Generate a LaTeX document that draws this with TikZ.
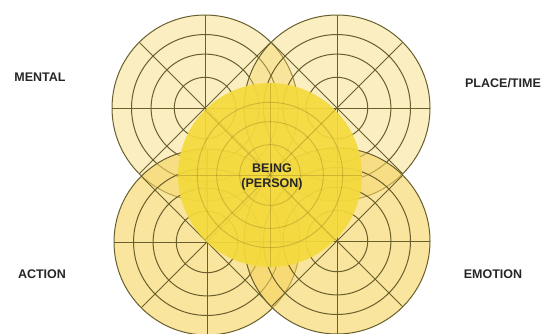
\documentclass[tikz,border=0pt]{standalone}
\usepackage{fontspec}
\setmainfont{Liberation Sans}
\begin{document}
\begin{tikzpicture}[x=1pt,y=-1pt,
  gridline/.style={draw={rgb,255:red,105;green,95;blue,45}, line width=1pt},
  softline/.style={draw={rgb,255:red,150;green,130;blue,30}, line width=0.9pt, draw opacity=0.4},
  lbl/.style={font=\bfseries\fontsize{12.5}{14}\selectfont, text=black!85, inner sep=0pt},
  toplobe/.style={fill={rgb,255:red,245;green,213;blue,100}, fill opacity=0.4},
  botlobe/.style={fill={rgb,255:red,245;green,211;blue,92}, fill opacity=0.6},
  corelobe/.style={fill={rgb,255:red,244;green,218;blue,60}, fill opacity=0.92}
]
\useasboundingbox (0,0) rectangle (545,333);
\def\R{93}
% top-left wheel
\begin{scope}[shift={(205,108)}]
  \fill[toplobe] (0,0) circle (\R);
  \foreach \f in {1,0.79,0.58,0.33} {\draw[gridline] (0,0) circle ({\f*\R});}
  \foreach \a in {0,45,90,135} {\draw[gridline] (\a:\R) -- (\a+180:\R);}
\end{scope}
% top-right wheel
\begin{scope}[shift={(337,108)}]
  \fill[toplobe] (0,0) circle (\R);
  \foreach \f in {1,0.79,0.58,0.33} {\draw[gridline] (0,0) circle ({\f*\R});}
  \foreach \a in {0,45,90,135} {\draw[gridline] (\a:\R) -- (\a+180:\R);}
\end{scope}
% bottom-left wheel
\begin{scope}[shift={(207,242)}]
  \fill[botlobe] (0,0) circle (\R);
  \foreach \f in {1,0.79,0.58,0.33} {\draw[gridline] (0,0) circle ({\f*\R});}
  \foreach \a in {0,45,90,135} {\draw[gridline] (\a:\R) -- (\a+180:\R);}
\end{scope}
% bottom-right wheel
\begin{scope}[shift={(337,241)}]
  \fill[botlobe] (0,0) circle (\R);
  \foreach \f in {1,0.79,0.58,0.33} {\draw[gridline] (0,0) circle ({\f*\R});}
  \foreach \a in {0,45,90,135} {\draw[gridline] (\a:\R) -- (\a+180:\R);}
\end{scope}
% centre wheel
\begin{scope}[shift={(270,175)}]
  \fill[corelobe] (0,0) circle (92);
  \foreach \f in {0.79,0.58,0.33} {\draw[softline] (0,0) circle ({\f*92});}
  \foreach \a in {0,45,90,135} {\draw[softline] (\a:92) -- (\a+180:92);}
\end{scope}
\node[lbl, align=center] (being) at (272,177) {BEING\\[1pt](PERSON)};
\node[lbl] (mental) at (40,77) {MENTAL};
\node[lbl] (place) at (503,83) {PLACE/TIME};
\node[lbl] (action) at (42,274) {ACTION};
\node[lbl] (emotion) at (493,274) {EMOTION};
\end{tikzpicture}
\end{document}
